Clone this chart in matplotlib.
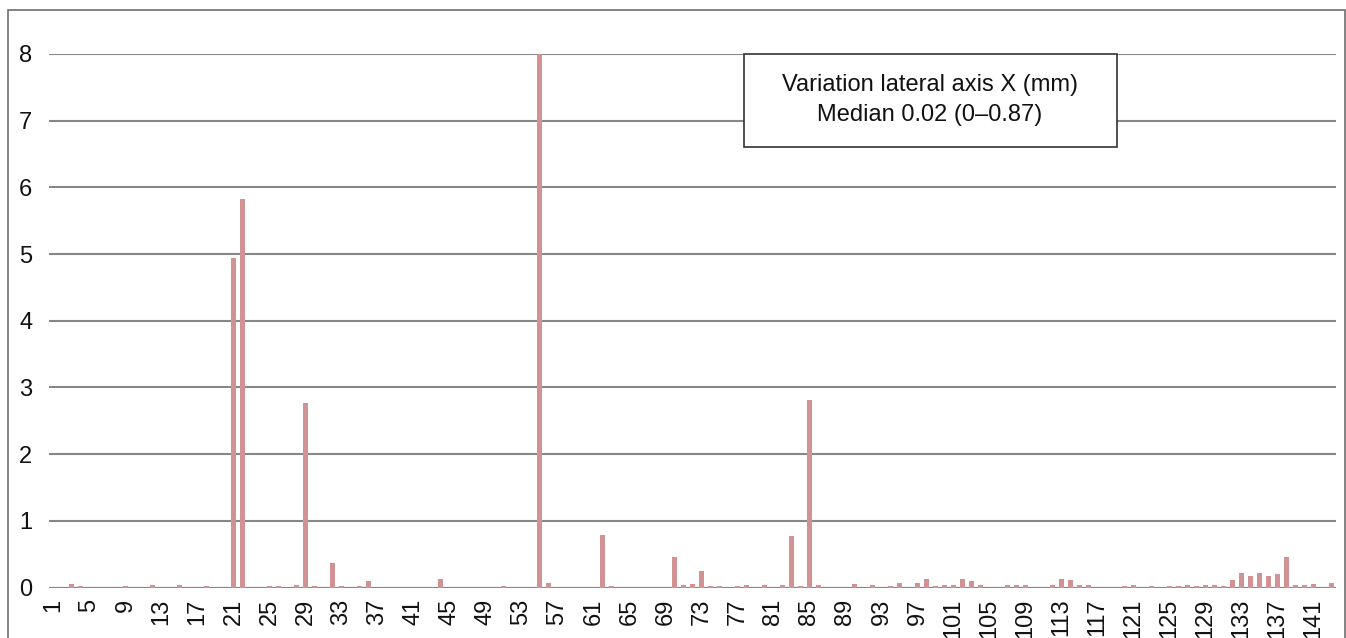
import matplotlib.pyplot as plt
from matplotlib.patches import Rectangle
import numpy as np

plt.rcParams['font.family'] = ['Liberation Sans', 'DejaVu Sans']

# case number -> variation (mm); cases not listed are 0
cases = list(range(1, 144))
nonzero_cases = [3, 4, 9, 12, 15, 18, 21, 22, 25, 26, 28, 29, 30, 32, 33, 35, 36,
                 44, 51, 55, 56, 62, 63, 70, 71, 72, 73, 74, 75, 77, 78, 80, 82,
                 83, 84, 85, 86, 90, 92, 94, 95, 97, 98, 99, 100, 101, 102, 103,
                 104, 107, 108, 109, 112, 113, 114, 115, 116, 120, 121, 123, 125,
                 126, 127, 128, 129, 130, 131, 132, 133, 134, 135, 136, 137, 138,
                 139, 140, 141, 143]
nonzero_values = [0.05, 0.02, 0.02, 0.03, 0.03, 0.02, 4.94, 5.83, 0.02, 0.02,
                  0.035, 2.76, 0.02, 0.37, 0.02, 0.02, 0.1,
                  0.125, 0.02, 8.0, 0.065, 0.79, 0.02, 0.46, 0.035, 0.05, 0.245,
                  0.02, 0.02, 0.02, 0.035, 0.035, 0.035,
                  0.775, 0.02, 2.81, 0.035, 0.05, 0.035, 0.02, 0.065, 0.065,
                  0.125, 0.02, 0.035, 0.035, 0.125, 0.095,
                  0.035, 0.035, 0.035, 0.035, 0.035, 0.125, 0.11, 0.035, 0.035,
                  0.02, 0.035, 0.02, 0.02,
                  0.02, 0.035, 0.02, 0.035, 0.035, 0.02, 0.11, 0.215, 0.17,
                  0.215, 0.17, 0.2, 0.455,
                  0.035, 0.035, 0.05, 0.065]
values = np.zeros(len(cases))
for c, v in zip(nonzero_cases, nonzero_values):
    values[c - 1] = v

tick_cases = cases[::4]
box_text = "Variation lateral axis X (mm)\nMedian 0.02 (0\u20130.87)"

W, H = 1346, 638
fig = plt.figure(figsize=(W / 100, H / 100), dpi=100)
ax = fig.add_axes([49 / W, 1 - 587.5 / H, 1287 / W, 533.5 / H])

ax.bar(cases, values, width=0.55, color='#D09292', zorder=3)
ax.set_xlim(0.5, len(cases) + 0.5)
ax.set_ylim(0, 8)
ax.set_yticks(range(0, 9))
ax.set_xticks(tick_cases)
ax.set_xticklabels([str(t) for t in tick_cases], rotation=90)
ax.tick_params(axis='both', length=0, labelsize=17, colors='#111111')
ax.tick_params(axis='y', pad=12)
ax.tick_params(axis='x', pad=8)
ax.grid(axis='y', color='#878787', linewidth=1.5, zorder=0)
ax.set_axisbelow(True)
for s in ax.spines.values():
    s.set_visible(False)
ax.axhline(0, color='#878787', linewidth=1.5, zorder=2)

# outer frame
fig.patches.append(Rectangle((8 / W, -0.1), (1345 - 8) / W, 1.1 - 10 / H,
                             transform=fig.transFigure, fill=False,
                             edgecolor='#6e6e6e', linewidth=1.2))

# annotation box
fig.patches.append(Rectangle((744 / W, 1 - 147 / H), 373 / W, 93 / H,
                             transform=fig.transFigure, facecolor='white',
                             edgecolor='#333333', linewidth=1.2, zorder=5))
fig.text(930 / W, 1 - 100 / H, box_text, ha='center', va='center',
         fontsize=17, color='#111111', linespacing=1.45, zorder=6)

fig.savefig('out.png', dpi=100)
